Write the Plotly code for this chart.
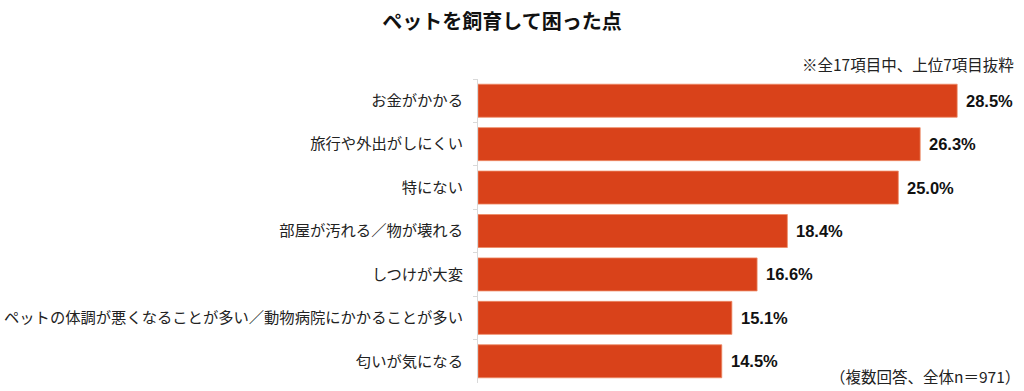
import plotly.graph_objects as go

categories = [
    "お金がかかる",
    "旅行や外出がしにくい",
    "特にない",
    "部屋が汚れる／物が壊れる",
    "しつけが大変",
    "ペットの体調が悪くなることが多い／動物病院にかかることが多い",
    "匂いが気になる",
]
values = [28.5, 26.3, 25.0, 18.4, 16.6, 15.1, 14.5]
value_labels = [f"{v:.1f}%" for v in values]

title_text = "ペットを飼育して困った点"
note_top = "※全17項目中、上位7項目抜粋"
note_bottom = "（複数回答、全体n＝971）"

JP = "Noto Sans CJK JP"

fig = go.Figure()
fig.add_trace(go.Bar(
    x=values,
    y=categories,
    orientation="h",
    marker=dict(color="#D9421A", line=dict(color="#EE8A66", width=0.8)),
    hoverinfo="x+y",
))

for c, v, t in zip(categories, values, value_labels):
    fig.add_annotation(
        x=v, y=c, xref="x", yref="y", text=t, showarrow=False,
        xanchor="left", yanchor="middle", xshift=7,
        font=dict(family="Liberation Sans, Arial", size=16.5, color="#111111", weight="bold"),
    )

fig.add_annotation(
    xref="paper", yref="paper", x=1.0, y=1.049, text=note_top, showarrow=False,
    xanchor="right", yanchor="middle",
    font=dict(family=JP, size=15.5, color="#222222"),
)
fig.add_annotation(
    xref="paper", yref="paper", x=1.0, y=0.0, text=note_bottom, showarrow=False,
    xanchor="right", yanchor="bottom", yshift=-6, xshift=6,
    font=dict(family=JP, size=15.5, color="#222222"),
)

fig.update_layout(
    width=1024, height=391,
    margin=dict(l=478, r=8, t=79, b=8),
    paper_bgcolor="white", plot_bgcolor="white",
    bargap=0.24,
    showlegend=False,
    title=dict(
        text=f"<b>{title_text}</b>", x=502/1024, xanchor="center", xref="container",
        y=1 - 22/391, yanchor="middle", yref="container",
        font=dict(family=JP, size=20, color="#111111"),
    ),
    xaxis=dict(range=[0, 32], visible=False, fixedrange=True),
    yaxis=dict(
        type="category", categoryorder="array", categoryarray=categories,
        autorange="reversed", automargin=False,
        showline=True, linecolor="#D9D9D9", linewidth=1,
        ticks="outside", tickson="boundaries", ticklen=4, tickcolor="#D9D9D9",
        ticklabelstandoff=11,
        showgrid=False, zeroline=False,
        tickfont=dict(family=JP, size=15.3, color="#222222"),
        fixedrange=True,
    ),
)

fig.write_html("out.html")
